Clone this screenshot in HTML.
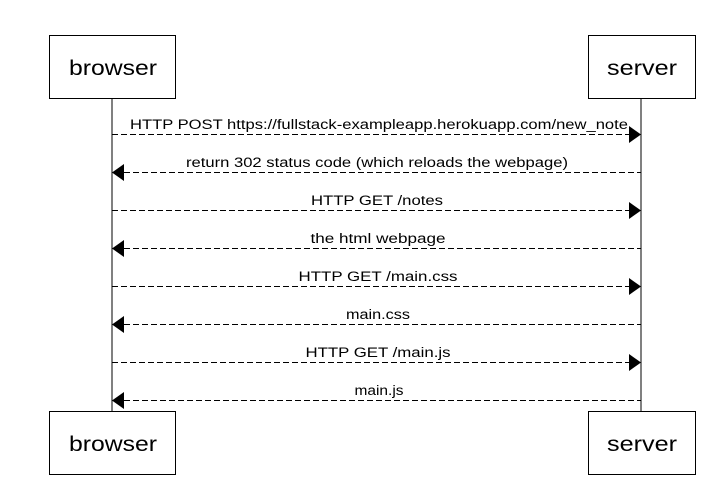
<!DOCTYPE html>
<html><head><style>body{margin:0;background:#fff}</style></head><body>
<svg width="723" height="492" xmlns="http://www.w3.org/2000/svg" font-family="Liberation Sans, Arial, sans-serif">
<rect width="723" height="492" fill="#fff"/>
<g stroke="#000" fill="#fff" stroke-width="1">
<line x1="112" y1="98" x2="112" y2="411"/>
<line x1="641" y1="98" x2="641" y2="411"/>
<rect x="49.5" y="35.5" width="126" height="63"/>
<rect x="588.5" y="35.5" width="107" height="63"/>
<rect x="49.5" y="411.5" width="126" height="63"/>
<rect x="588.5" y="411.5" width="107" height="63"/>
</g>
<g font-size="21" text-anchor="middle" fill="#000" lengthAdjust="spacingAndGlyphs">
<text x="113" y="75" textLength="88" lengthAdjust="spacingAndGlyphs">browser</text>
<text x="642" y="75" textLength="70" lengthAdjust="spacingAndGlyphs">server</text>
<text x="113" y="451" textLength="88" lengthAdjust="spacingAndGlyphs">browser</text>
<text x="642" y="451" textLength="70" lengthAdjust="spacingAndGlyphs">server</text>
</g>
<g stroke="#000" stroke-dasharray="6,3" stroke-width="1">
<line x1="112" y1="134.5" x2="630" y2="134.5"/>
<line x1="124" y1="172.5" x2="641" y2="172.5"/>
<line x1="112" y1="210.5" x2="630" y2="210.5"/>
<line x1="124" y1="248.5" x2="641" y2="248.5"/>
<line x1="112" y1="286.5" x2="630" y2="286.5"/>
<line x1="124" y1="324.5" x2="641" y2="324.5"/>
<line x1="112" y1="362.5" x2="630" y2="362.5"/>
<line x1="124" y1="400.5" x2="641" y2="400.5"/>
</g>
<g fill="#000">
<polygon points="629,126 641,134.5 629,143"/>
<polygon points="124,164 112,172.5 124,181"/>
<polygon points="629,202 641,210.5 629,219"/>
<polygon points="124,240 112,248.5 124,257"/>
<polygon points="629,278 641,286.5 629,295"/>
<polygon points="124,316 112,324.5 124,333"/>
<polygon points="629,354 641,362.5 629,371"/>
<polygon points="124,392 112,400.5 124,409"/>
</g>
<g font-size="13.5" text-anchor="middle" fill="#000">
<text x="379" y="129" textLength="498" lengthAdjust="spacingAndGlyphs">HTTP POST https://fullstack-exampleapp.herokuapp.com/new_note</text>
<text x="377" y="167" textLength="382" lengthAdjust="spacingAndGlyphs">return 302 status code (which reloads the webpage)</text>
<text x="377" y="205" textLength="132" lengthAdjust="spacingAndGlyphs">HTTP GET /notes</text>
<text x="378" y="243" textLength="135" lengthAdjust="spacingAndGlyphs">the html  webpage</text>
<text x="378" y="281" textLength="159" lengthAdjust="spacingAndGlyphs">HTTP GET /main.css</text>
<text x="378" y="319" textLength="64" lengthAdjust="spacingAndGlyphs">main.css</text>
<text x="378" y="357" textLength="145" lengthAdjust="spacingAndGlyphs">HTTP GET /main.js</text>
<text x="379" y="395" textLength="49" lengthAdjust="spacingAndGlyphs">main.js</text>
</g>
</svg>
</body></html>
